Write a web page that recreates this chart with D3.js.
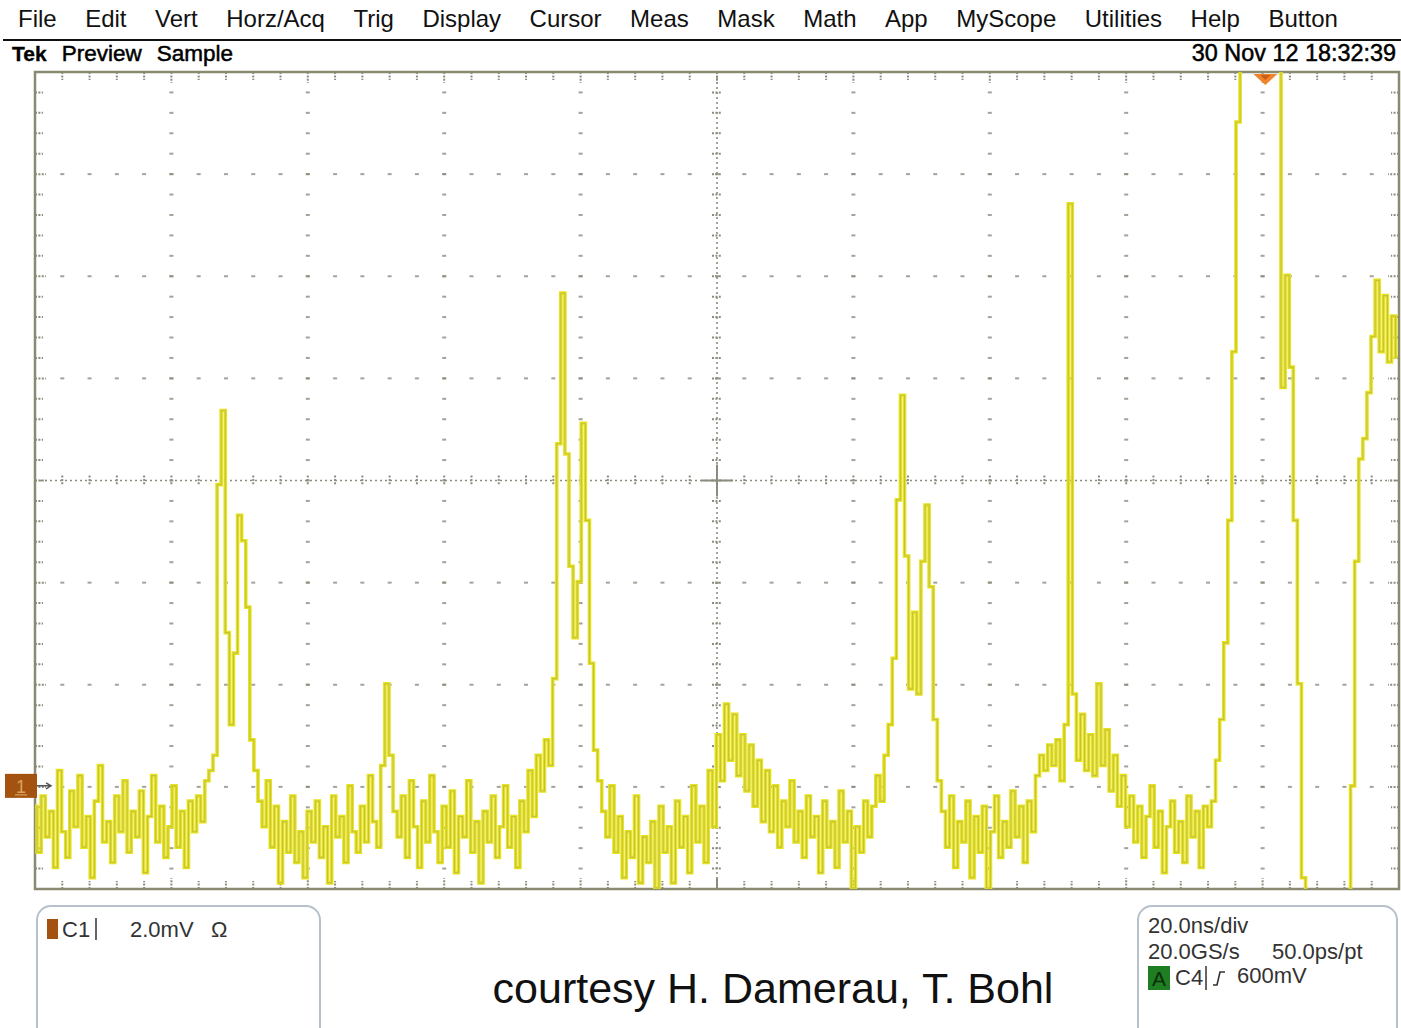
<!DOCTYPE html>
<html>
<head>
<meta charset="utf-8">
<script src="https://cdn.jsdelivr.net/npm/d3@7"></script>
<style>
  body { margin: 0; background: #fff; }
  svg { display: block; font-family: "Liberation Sans", Arial, sans-serif; }
</style>
</head>
<body>
<svg id="scope"></svg>
<script>
const menuLabels = ["File", "Edit", "Vert", "Horz/Acq", "Trig", "Display", "Cursor", "Meas",
    "Mask", "Math", "App", "MyScope", "Utilities", "Help", "Button"];
const statusLabels = ["Tek", "Preview", "Sample"];
const timestamp = "30 Nov 12 18:32:39";
const ch1Label = "C1";
const ch1Scale = "2.0mV";
const horizLabels = ["20.0ns/div", "20.0GS/s", "50.0ps/pt"];
const trigSource = "C4";
const trigLevel = "600mV";
const credit = "courtesy H. Damerau, T. Bohl";

const mVPerDiv = 2;
const nsPerDiv = 20;
const groundDiv = 1.01;      // ch1 ground, divisions above bottom edge
const timeLeft = -180.4;     // ns at the left edge (trigger = 0)
const sampleStep = 0.6;      // ns between points below

// ch1, mV, one value per sampleStep from timeLeft
const ch1 = [
    -0.4, -1.3, -0.2, -1.0, -0.5, -1.6, 0.3, -0.9, -1.4, -0.1,
    -0.8, 0.2, -1.2, -0.6, -1.8, -0.3, 0.4, -1.1, -0.7, -1.5,
    -0.2, -0.9, 0.1, -1.3, -0.5, -1.0, -0.1, -1.7, -0.6, 0.2,
    -1.1, -0.4, -1.4, -0.8, 0.0, -1.2, -0.5, -1.6, -0.3, -0.9,
    -0.2, -0.7, 0.1, 0.3, 0.6, 5.9, 7.35, 3.0, 1.2, 2.6,
    5.3, 4.8, 3.5, 0.9, 0.3, -0.3, -0.8, 0.1, -1.2, -0.4,
    -1.9, -0.7, -1.3, -0.2, -1.5, -0.9, -1.8, -0.5, -1.1, -0.3,
    -1.4, -0.8, -1.9, -0.2, -1.0, -0.6, -1.5, 0.0, -0.9, -1.3,
    -0.4, -1.1, 0.2, -0.7, -1.2, 0.4, 2.0, 0.6, -0.5, -1.0,
    -0.2, -1.4, 0.1, -0.8, -1.6, -0.3, -1.1, 0.2, -0.9, -1.5,
    -0.4, -1.2, -0.1, -1.7, -0.6, -1.0, 0.1, -1.3, -0.7, -1.9,
    -0.5, -1.1, -0.2, -1.4, -0.8, 0.0, -1.2, -0.6, -1.6, -0.3,
    -0.9, 0.3, -0.6, 0.6, -0.1, 0.9, 0.4, 2.1, 6.7, 9.65,
    6.5, 4.3, 2.9, 4.0, 7.1, 5.2, 2.4, 0.7, 0.1, -0.5,
    -1.0, 0.0, -1.3, -0.6, -1.8, -0.9, -1.4, -0.2, -1.9, -1.0,
    -1.5, -0.7, -2.0, -0.4, -1.3, -0.8, -1.9, -0.3, -1.2, -0.6,
    -1.7, 0.0, -1.1, -0.4, -1.5, 0.3, -0.8, 1.0, 0.1, 1.6,
    0.5, 1.4, 0.2, 1.0, -0.1, 0.8, -0.4, 0.5, -0.7, 0.3,
    -0.9, 0.0, -1.2, -0.3, -0.8, 0.1, -1.1, -0.5, -1.4, -0.2,
    -1.0, -0.6, -1.7, -0.3, -1.2, -0.7, -1.6, -0.1, -1.1, -0.5,
    -2.0, -0.8, -1.3, -0.3, -1.0, -0.4, 0.2, -0.3, 0.6, 1.2,
    2.5, 5.6, 7.65, 4.5, 1.9, 3.4, 1.8, 4.4, 5.5, 3.9,
    1.3, 0.1, -0.5, -1.2, -0.2, -1.6, -0.7, -1.1, -0.3, -1.8,
    -0.6, -1.3, -0.4, -2.0, -0.9, -0.2, -1.4, -0.7, -1.2, -0.1,
    -1.0, -0.4, -1.5, -0.3, -0.9, 0.2, 0.6, 0.3, 0.8, 0.4,
    0.9, 0.1, 1.2, 11.4, 1.8, 0.5, 1.4, 0.3, 1.0, 0.2,
    2.0, 0.4, 1.1, -0.1, 0.6, -0.4, 0.2, -0.8, -0.2, -1.1,
    -0.4, -1.4, -0.6, 0.0, -1.2, -0.5, -1.7, -0.8, -0.3, -1.3,
    -0.7, -1.5, -0.2, -1.0, -0.5, -1.6, -0.4, -0.8, -0.3, 0.5,
    1.3, 2.8, 5.2, 8.5, 13.0, 15.5, 16.2, 16.8, 17.0, 16.9,
    16.5, 16.0, 15.4, 14.8, 14.5, 7.8, 10.0, 8.2, 5.2, 2.0,
    -1.8, -3.5, -4.2, -4.6, -4.8, -4.7, -4.4, -3.9, -3.2, -2.5,
    -2.2, -2.4, 0.0, 4.4, 6.4, 6.8, 7.7, 8.8, 9.9, 8.5,
    9.6, 8.3, 9.2, 8.4
];

class ScopeScreen {
    constructor(config, samples) {
        this.config = {
            parent: config.parent,
            width: config.width || 1401,
            height: config.height || 1028,
            screen: config.screen || { left: 35, right: 1399, top: 72, bottom: 889 },
            gridColor: config.gridColor || "#8c8c7e",
            traceColor: config.traceColor || "#e6e41a",
            traceCore: config.traceCore || "#c6bf44"
        };
        this.samples = samples;
        this.init();
    }

    init() {
        let self = this;
        const s = self.config.screen;

        self.svg = d3.select(self.config.parent)
            .attr("width", self.config.width)
            .attr("height", self.config.height);

        // graticule in divisions
        self.xDiv = d3.scaleLinear().domain([-5, 5]).range([s.left, s.right]);
        self.yDiv = d3.scaleLinear().domain([-4, 4]).range([s.bottom, s.top]);

        // physical units
        self.x = d3.scaleLinear()
            .domain([timeLeft, timeLeft + 10 * nsPerDiv])
            .range([s.left, s.right]);
        self.y = d3.scaleLinear()
            .domain([-groundDiv * mVPerDiv, (8 - groundDiv) * mVPerDiv])
            .range([s.bottom, s.top]);

        self.minorX = d3.range(0, 51).map(i => -5 + i * 0.2);
        self.minorY = d3.range(0, 41).map(i => -4 + i * 0.2);
    }

    render() {
        this.drawMenu();
        this.drawGraticule();
        this.drawTrace();
        this.drawMarkers();
        this.drawReadouts();
    }

    drawMenu() {
        let self = this;
        let g = self.svg.append("g").attr("class", "menu");

        let cx = 18;
        menuLabels.forEach(label => {
            let t = g.append("text")
                .attr("x", cx)
                .attr("y", 27)
                .style("font-size", "24px")
                .attr("fill", "#111")
                .text(label);
            cx += t.node().getComputedTextLength() + 28.5;
        });

        g.append("line")
            .attr("x1", 3).attr("x2", self.config.width)
            .attr("y1", 40).attr("y2", 40)
            .attr("stroke", "#111")
            .attr("stroke-width", 2.2);

        let sx = 12;
        statusLabels.forEach((label, i) => {
            let t = g.append("text")
                .attr("x", sx)
                .attr("y", 61)
                .style("font-size", i === 0 ? "21px" : "22.5px")
                .style("font-weight", i === 0 ? "bold" : "normal")
                .attr("fill", "#000")
                .attr("stroke", "#000")
                .attr("stroke-width", i === 0 ? 0.3 : 0.5)
                .text(label);
            sx += t.node().getComputedTextLength() + 15;
        });

        g.append("text")
            .attr("x", 1396)
            .attr("y", 61)
            .attr("text-anchor", "end")
            .style("font-size", "23.4px")
            .attr("fill", "#000")
            .attr("stroke", "#000")
            .attr("stroke-width", 0.5)
            .text(timestamp);
    }

    drawGraticule() {
        let self = this;
        const s = self.config.screen;
        const col = self.config.gridColor;
        let g = self.svg.append("g").attr("class", "graticule");

        const innerY = self.minorY.filter(d => d > -4 && d < 4);
        const innerX = self.minorX.filter(d => d > -5 && d < 5);
        const isMajor = d => Math.abs(d - Math.round(d)) < 1e-6;

        // dotted major lines (not the centre ones)
        const vMajors = d3.range(-4, 5).filter(d => d !== 0);
        const hMajors = d3.range(-3, 4).filter(d => d !== 0);

        g.selectAll(".vdot")
            .data(d3.cross(vMajors, innerY))
            .join("rect")
            .attr("class", "vdot")
            .attr("x", d => self.xDiv(d[0]) - 2)
            .attr("y", d => self.yDiv(d[1]) - 1)
            .attr("width", 4)
            .attr("height", 2)
            .attr("fill", col)
            .attr("opacity", 0.8);

        g.selectAll(".hdot")
            .data(d3.cross(hMajors, innerX))
            .join("rect")
            .attr("class", "hdot")
            .attr("x", d => self.xDiv(d[1]) - 2)
            .attr("y", d => self.yDiv(d[0]) - 1)
            .attr("width", 4)
            .attr("height", 2)
            .attr("fill", col)
            .attr("opacity", 0.8);

        // centre cross with minor ticks
        const cx = self.xDiv(0), cy = self.yDiv(0);
        g.append("line")
            .attr("x1", s.left).attr("x2", s.right)
            .attr("y1", cy).attr("y2", cy)
            .attr("stroke", col).attr("stroke-width", 1.6)
            .attr("stroke-dasharray", "2,3");
        g.append("line")
            .attr("x1", cx).attr("x2", cx)
            .attr("y1", s.top).attr("y2", s.bottom)
            .attr("stroke", col).attr("stroke-width", 1.6)
            .attr("stroke-dasharray", "2,3");

        g.selectAll(".ctickx")
            .data(innerX)
            .join("line")
            .attr("class", "ctickx")
            .attr("x1", d => self.xDiv(d)).attr("x2", d => self.xDiv(d))
            .attr("y1", cy - 5).attr("y2", cy + 5)
            .attr("stroke", col).attr("stroke-width", 2)
            .attr("stroke-dasharray", "2,1.4");
        g.selectAll(".cticky")
            .data(innerY)
            .join("line")
            .attr("class", "cticky")
            .attr("x1", cx - 5).attr("x2", cx + 5)
            .attr("y1", d => self.yDiv(d)).attr("y2", d => self.yDiv(d))
            .attr("stroke", col).attr("stroke-width", 2)
            .attr("stroke-dasharray", "2,1.4");

        g.append("path")
            .attr("d", `M${cx - 16},${cy}H${cx + 16}M${cx},${cy - 16}V${cy + 16}`)
            .attr("stroke", col).attr("stroke-width", 2);

        // border ticks
        const tickLen = d => isMajor(d) ? 11 : 8;
        g.selectAll(".ttick")
            .data(innerX)
            .join("line")
            .attr("class", "ttick")
            .attr("x1", d => self.xDiv(d)).attr("x2", d => self.xDiv(d))
            .attr("y1", s.top).attr("y2", d => s.top + tickLen(d))
            .attr("stroke", col).attr("stroke-width", 2)
            .attr("stroke-dasharray", "2,1.4");
        g.selectAll(".btick")
            .data(innerX)
            .join("line")
            .attr("class", "btick")
            .attr("x1", d => self.xDiv(d)).attr("x2", d => self.xDiv(d))
            .attr("y1", s.bottom).attr("y2", d => s.bottom - tickLen(d))
            .attr("stroke", col).attr("stroke-width", 2)
            .attr("stroke-dasharray", d => d === 0 ? null : "2,1.4");
        g.selectAll(".ltick")
            .data(innerY)
            .join("line")
            .attr("class", "ltick")
            .attr("x1", s.left).attr("x2", d => s.left + tickLen(d))
            .attr("y1", d => self.yDiv(d)).attr("y2", d => self.yDiv(d))
            .attr("stroke", col).attr("stroke-width", 2)
            .attr("stroke-dasharray", "2,1.4");
        g.selectAll(".rtick")
            .data(innerY)
            .join("line")
            .attr("class", "rtick")
            .attr("x1", s.right).attr("x2", d => s.right - tickLen(d))
            .attr("y1", d => self.yDiv(d)).attr("y2", d => self.yDiv(d))
            .attr("stroke", col).attr("stroke-width", 2)
            .attr("stroke-dasharray", "2,1.4");

        g.append("rect")
            .attr("x", s.left).attr("y", s.top)
            .attr("width", s.right - s.left)
            .attr("height", s.bottom - s.top)
            .attr("fill", "none")
            .attr("stroke", "#8a8a72")
            .attr("stroke-width", 2.5);
    }

    drawTrace() {
        let self = this;
        const s = self.config.screen;

        self.svg.append("clipPath")
            .attr("id", "screen-clip")
            .append("rect")
            .attr("x", s.left).attr("y", s.top)
            .attr("width", s.right - s.left)
            .attr("height", s.bottom - s.top);

        const pts = self.samples.map((v, i) => ({ t: timeLeft + i * sampleStep, v: v }));
        // sampled display: hold each point, vertical bars between them
        const line = d3.line()
            .curve(d3.curveStep)
            .x(d => self.x(d.t))
            .y(d => self.y(d.v));

        let g = self.svg.append("g")
            .attr("class", "trace")
            .attr("clip-path", "url(#screen-clip)");

        g.append("path")
            .datum(pts)
            .attr("d", line)
            .attr("fill", "none")
            .attr("stroke", self.config.traceColor)
            .attr("stroke-width", 3.6)
            .attr("stroke-linejoin", "miter");
        g.append("path")
            .datum(pts)
            .attr("d", line)
            .attr("fill", "none")
            .attr("stroke", self.config.traceCore)
            .attr("stroke-width", 1.1);
    }

    drawMarkers() {
        let self = this;
        const gy = self.y(0);

        // ch1 ground marker
        let m = self.svg.append("g").attr("class", "ch1-marker");
        m.append("rect")
            .attr("x", 5).attr("y", gy - 12)
            .attr("width", 32).attr("height", 24)
            .attr("fill", "#a4520f");
        m.append("text")
            .attr("x", 21).attr("y", gy + 7)
            .attr("text-anchor", "middle")
            .style("font-size", "18px")
            .attr("fill", "#d9a35c")
            .text("1");
        m.append("line")
            .attr("x1", 15).attr("x2", 27)
            .attr("y1", gy + 9).attr("y2", gy + 9)
            .attr("stroke", "#d9a35c").attr("stroke-width", 1.2);
        m.append("path")
            .attr("d", `M37,${gy}H50M46,${gy - 3}L51,${gy}L46,${gy + 3}`)
            .attr("fill", "none")
            .attr("stroke", "#555").attr("stroke-width", 1.5);

        // trigger position
        const tx = self.x(0), ty = self.config.screen.top + 2;
        self.svg.append("path")
            .attr("d", `M${tx - 12},${ty}L${tx + 12},${ty}L${tx},${ty + 11}Z`)
            .attr("fill", "#f0842a");
        self.svg.append("path")
            .attr("d", `M${tx - 5},${ty + 1}L${tx + 5},${ty + 1}L${tx},${ty + 6}Z`)
            .attr("fill", "#c8601a");
    }

    drawReadouts() {
        let self = this;
        let g = self.svg.append("g").attr("class", "readouts");
        const txtCol = "#333";

        const box = (x, w) => g.append("rect")
            .attr("x", x).attr("y", 906)
            .attr("width", w).attr("height", 140)
            .attr("rx", 14)
            .attr("fill", "#fff")
            .attr("stroke", "#b6c1cc")
            .attr("stroke-width", 2);
        box(37, 283);
        box(1138, 259);

        const label = (x, y, str) => g.append("text")
            .attr("x", x).attr("y", y)
            .style("font-size", "22px")
            .attr("fill", txtCol)
            .text(str);

        // channel 1
        g.append("rect")
            .attr("x", 47).attr("y", 919)
            .attr("width", 11).attr("height", 20)
            .attr("fill", "#a4520f");
        label(62, 937, ch1Label);
        g.append("line")
            .attr("x1", 96).attr("x2", 96)
            .attr("y1", 918).attr("y2", 940)
            .attr("stroke", txtCol).attr("stroke-width", 1.5);
        label(130, 937, ch1Scale);
        label(211, 937, "\u03a9");

        // horizontal / trigger
        label(1148, 933, horizLabels[0]);
        label(1148, 959, horizLabels[1]);
        label(1272, 959, horizLabels[2]);

        g.append("rect")
            .attr("x", 1148).attr("y", 966)
            .attr("width", 22).attr("height", 24)
            .attr("fill", "#1f7d22");
        g.append("text")
            .attr("x", 1159).attr("y", 986)
            .attr("text-anchor", "middle")
            .style("font-size", "21px")
            .attr("fill", "#0b2e0b")
            .text("A");
        label(1175, 985, trigSource);
        g.append("line")
            .attr("x1", 1206).attr("x2", 1206)
            .attr("y1", 966).attr("y2", 990)
            .attr("stroke", txtCol).attr("stroke-width", 1.5);
        g.append("path")
            .attr("d", "M1213,985H1217L1220,972H1225")
            .attr("fill", "none")
            .attr("stroke", txtCol).attr("stroke-width", 1.6);
        label(1237, 983, trigLevel);

        g.append("text")
            .attr("x", 773).attr("y", 1003)
            .attr("text-anchor", "middle")
            .style("font-size", "43px")
            .attr("fill", "#111")
            .text(credit);
    }
}

let scope = new ScopeScreen({ parent: "#scope" }, ch1);
scope.render();
</script>
</body>
</html>
